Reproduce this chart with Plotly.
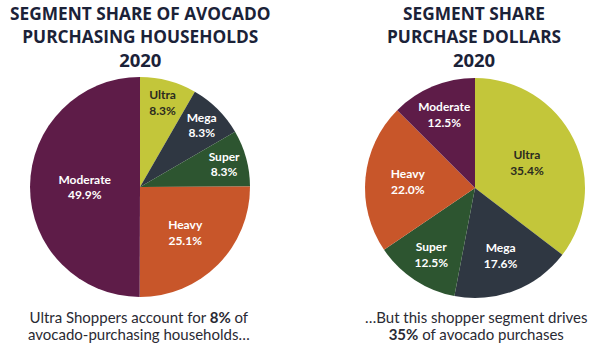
import plotly.graph_objects as go

segments = ["Ultra", "Mega", "Super", "Heavy", "Moderate"]
households_share = [8.3, 8.3, 8.3, 25.1, 49.9]
dollars_share = [35.4, 17.6, 12.5, 22.0, 12.5]
colors = ["#c3c63a", "#2f3742", "#2d5530", "#c8562a", "#5e1c48"]
text_colors = ["#2b2b20", "white", "white", "white", "white"]

left_title = ["SEGMENT SHARE OF AVOCADO", "PURCHASING HOUSEHOLDS", "2020"]
right_title = ["SEGMENT SHARE", "PURCHASE DOLLARS", "2020"]
left_caption = ["Ultra Shoppers account for <b>8%</b> of", "avocado-purchasing households…"]
right_caption = ["…But this shopper segment drives", "<b>35%</b> of avocado purchases"]

W, H = 600, 346

fig = go.Figure()

def add_pie(values, cx, cy, r):
    fig.add_trace(go.Pie(
        labels=segments,
        values=values,
        sort=False,
        direction="clockwise",
        rotation=0,
        marker=dict(colors=colors, line=dict(width=0)),
        texttemplate="<b>%{label}<br>%{value:.1f}%</b>",
        textposition="inside",
        insidetextorientation="horizontal",
        insidetextfont=dict(family="Lato", size=12, color=text_colors),
        hoverinfo="label+value",
        showlegend=False,
        domain=dict(x=[(cx - r) / W, (cx + r) / W],
                    y=[(H - cy - r) / H, (H - cy + r) / H]),
    ))

add_pie(households_share, 140, 187, 110)
add_pie(dollars_share, 475, 188, 110)

title_color = "#1b2238"
cap_color = "#2a2a33"

def title(lines, x, y_top):
    text = (f"<span style='font-size:17.3px'><b>{lines[0]}</b></span><br>"
            f"<span style='font-size:17.3px'><b>{lines[1]}</b></span><br>"
            f"<span style='font-size:18.5px'><b>{lines[2]}</b></span>")
    fig.add_annotation(text=text, x=x / W, y=1 - y_top / H, xref="paper", yref="paper",
                       showarrow=False, xanchor="center", yanchor="top",
                       font=dict(family="Open Sans", size=18, color=title_color))

def caption(lines, x, y_top):
    text = "<br>".join(f"<span style='font-size:15px'>{l}</span>" for l in lines)
    fig.add_annotation(text=text, x=x / W, y=1 - y_top / H, xref="paper", yref="paper",
                       showarrow=False, xanchor="center", yanchor="top",
                       font=dict(family="Lato", size=13, color=cap_color))

title(left_title, 140, 0)
title(right_title, 474, 0)
caption(left_caption, 139, 306)
caption(right_caption, 476, 306)

fig.update_layout(width=W, height=H, margin=dict(l=0, r=0, t=0, b=0),
                  paper_bgcolor="white", plot_bgcolor="white")

fig.write_html("out.html")
